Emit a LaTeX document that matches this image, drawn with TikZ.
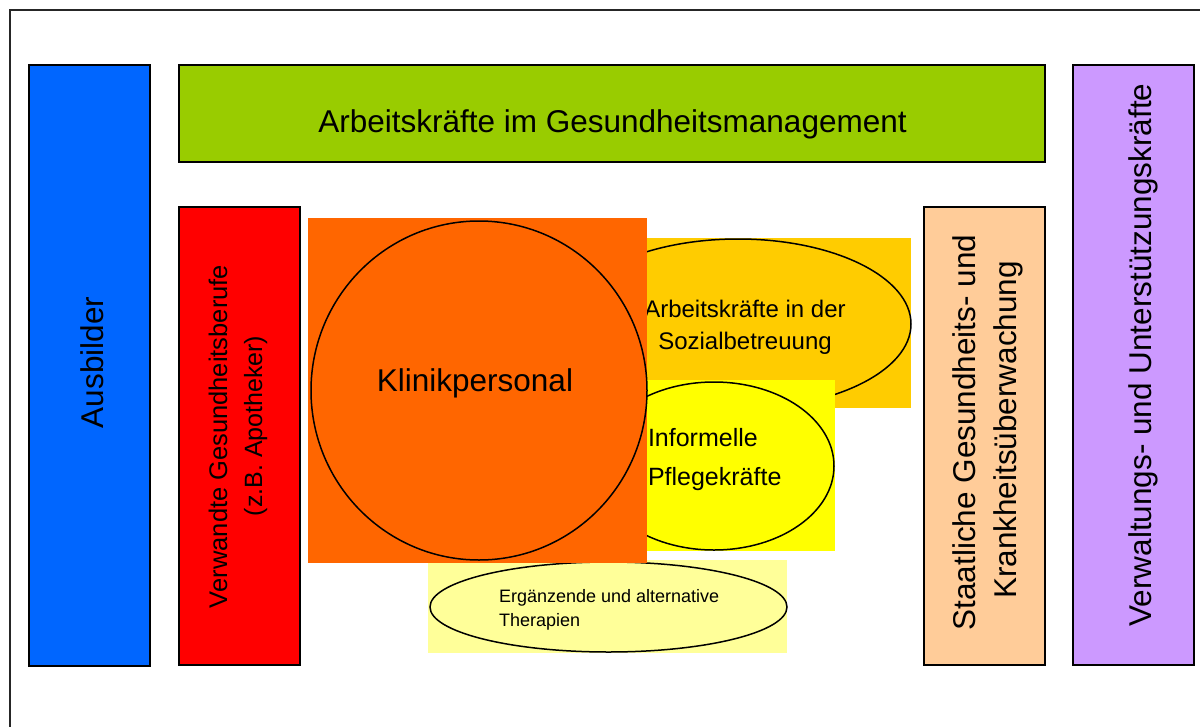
\documentclass[tikz,border=0pt]{standalone}
\usepackage{fontspec}
\setmainfont{Liberation Sans}
\usetikzlibrary{shapes.geometric,shadows}
\definecolor{cblue}{RGB}{0,102,255}
\definecolor{cgreen}{RGB}{153,204,0}
\definecolor{cred}{RGB}{255,0,0}
\definecolor{corange}{RGB}{255,102,0}
\definecolor{cgold}{RGB}{255,204,0}
\definecolor{cyellow}{RGB}{255,255,0}
\definecolor{clight}{RGB}{255,255,153}
\definecolor{cpeach}{RGB}{255,204,153}
\definecolor{cpurple}{RGB}{204,153,255}
\begin{document}
\begin{tikzpicture}[x=1pt,y=-1pt,
  framebox/.style={draw=black!85,line width=1.5pt},
  catbox/.style={rectangle,inner sep=0pt,outer sep=0pt,draw=black,line width=1.8pt,fill=#1,
    preaction={fill=#1,transform canvas={shift={(-1.5pt,1.5pt)}}},
    drop shadow={shadow xshift=1.2pt,shadow yshift=-1.2pt,fill=black!40,opacity=1}},
  plainbox/.style={rectangle,inner sep=0pt,outer sep=0pt,fill=#1},
  oval/.style={ellipse,inner sep=0pt,outer sep=0pt,draw=black,line width=1.5pt},
  txt/.style={inner sep=0pt,outer sep=0pt,text=black},
  vtxt/.style={inner sep=0pt,outer sep=0pt,text=black,rotate=90,anchor=base}
]
\useasboundingbox (0,0) rectangle (1200,726);
\begin{scope}
\clip (0,0) rectangle (1200,726);
\fill[white] (0,0) rectangle (1200,726);
\draw[framebox] (10,10) rectangle (1215,745);

% bordered category boxes
\node[catbox=cblue,minimum width=121pt,minimum height=601pt] (ausbilder) at (89.5,365.5) {};
\node[catbox=cgreen,minimum width=866pt,minimum height=97pt] (mgmt) at (612,113.5) {};
\node[catbox=cred,minimum width=121pt,minimum height=458pt] (verwandt) at (239.5,436) {};
\node[catbox=cpeach,minimum width=121pt,minimum height=458pt] (staat) at (984.5,436) {};
\node[catbox=cpurple,minimum width=121pt,minimum height=600pt] (verw) at (1133.5,365) {};

% Sozialbetreuung
\node[plainbox=cgold,minimum width=342pt,minimum height=170pt] (sozbox) at (740,323) {};
\node[oval,minimum width=346pt,minimum height=170pt] (sozell) at (738,324) {};
\node[txt,anchor=base,font=\fontsize{24}{28}\selectfont] (soz1) at (745,317) {Arbeitskräfte in der};
\node[txt,anchor=base,font=\fontsize{24}{28}\selectfont] (soz2) at (745,349) {Sozialbetreuung};

% Informelle Pflegekraefte
\node[plainbox=cyellow,minimum width=241pt,minimum height=171pt] (infbox) at (714.5,465.5) {};
\node[oval,minimum width=240pt,minimum height=168pt] (infell) at (714,466) {};
\node[txt,anchor=base west,font=\fontsize{25}{30}\selectfont] (inf1) at (648,446) {Informelle};
\node[txt,anchor=base west,font=\fontsize{25}{30}\selectfont] (inf2) at (648,485) {Pflegekräfte};

% Ergaenzende Therapien
\node[plainbox=clight,minimum width=359pt,minimum height=93pt] (ergbox) at (607.5,606.5) {};
\node[oval,minimum width=357pt,minimum height=90pt] (ergell) at (608.5,607) {};
\node[txt,anchor=base west,font=\fontsize{18}{22}\selectfont] (erg1) at (499,602) {Ergänzende und alternative};
\node[txt,anchor=base west,font=\fontsize{18}{22}\selectfont] (erg2) at (499,626) {Therapien};

% Klinikpersonal
\node[plainbox=corange,minimum width=339pt,minimum height=345pt] (klinbox) at (477.5,390.5) {};
\node[oval,minimum width=336pt,minimum height=339pt] (klinell) at (479,390.5) {};
\node[txt,anchor=base,font=\fontsize{31.5}{36}\selectfont] (klin) at (475,391) {Klinikpersonal};

% texts of bordered boxes
\node[txt,anchor=base,font=\fontsize{31.5}{36}\selectfont] (mgmtt) at (612.5,132) {Arbeitskräfte im Gesundheitsmanagement};
\node[vtxt,font=\fontsize{31.5}{36}\selectfont] (ausbt) at (103,362.5) {Ausbilder};
\node[vtxt,font=\fontsize{25.5}{30}\selectfont] (vert1) at (227,436.5) {Verwandte Gesundheitsberufe};
\node[vtxt,font=\fontsize{25}{30}\selectfont] (vert2) at (262,426) {(z.B. Apotheker)};
\node[vtxt,font=\fontsize{31.5}{36}\selectfont] (staat1) at (975,432.5) {Staatliche Gesundheits- und};
\node[vtxt,font=\fontsize{31.5}{36}\selectfont] (staat2) at (1016,430) {Krankheitsüberwachung};
\node[vtxt,font=\fontsize{31.5}{36}\selectfont] (verwt) at (1151,355) {Verwaltungs- und Unterstützungskräfte};
\end{scope}
\end{tikzpicture}
\end{document}
